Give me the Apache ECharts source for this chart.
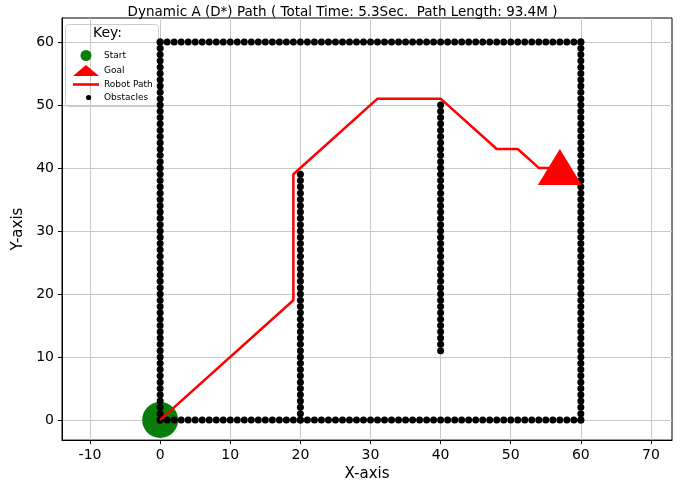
<!DOCTYPE html>
<html><head><meta charset="utf-8">
<script src="https://cdn.jsdelivr.net/npm/echarts@6/dist/echarts.min.js"></script>
<style>html,body{margin:0;padding:0;background:#fff}#c{width:685px;height:487px}</style>
</head><body><div id="c"></div>
<script>
const xTicks = [-10,0,10,20,30,40,50,60,70];
const yTicks = [0,10,20,30,40,50,60];
const startPt = [[0,0]];
const goalPt = [[57,39.5]];
const pathX = [0,19,19,31,40,48,51,54,57];
const pathY = [0,19,39,51,51,43,43,40,40];
// obstacle walls: [x0,y0,x1,y1]
const walls = [[0,0,0,60],[0,60,60,60],[60,0,60,60],[0,0,60,0],[20,0,20,39],[40,11,40,50]];
const obstacles = [];
walls.forEach(([x0,y0,x1,y1])=>{
  const n = Math.max(Math.abs(x1-x0),Math.abs(y1-y0));
  for(let i=0;i<=n;i++){obstacles.push([x0+(x1-x0)*i/n, y0+(y1-y0)*i/n]);}
});
const path = pathX.map((x,i)=>[x,pathY[i]]);
const f = 'DejaVu Sans';
const chart = echarts.init(document.getElementById('c'));
const axisCommon = {
  axisLine:{onZero:false,lineStyle:{color:'#000'}},
  axisTick:{length:4,lineStyle:{color:'#000'}},
  axisLabel:{color:'#000',fontSize:14,fontFamily:f},
  splitLine:{show:true,lineStyle:{color:'#c8c8c8',width:1}},
  nameTextStyle:{color:'#000',fontSize:15,fontFamily:f}
};
chart.setOption({
  animation:false,
  title:{text:'Dynamic A (D*) Path ( Total Time: 5.3Sec.  Path Length: 93.4M )',left:'center',top:0,
    textStyle:{fontSize:13.5,fontWeight:'normal',fontFamily:f,color:'#000'}},
  grid:{left:62,right:13,top:18,bottom:46,show:true,borderColor:'#000',borderWidth:1},
  xAxis:Object.assign({},axisCommon,{type:'value',min:-14,max:73,name:'X-axis',nameLocation:'middle',nameGap:26,
    axisLabel:Object.assign({},axisCommon.axisLabel,{customValues:xTicks}),
    axisTick:Object.assign({},axisCommon.axisTick,{customValues:xTicks}),
    splitLine:Object.assign({},axisCommon.splitLine,{customValues:xTicks})}),
  yAxis:Object.assign({},axisCommon,{type:'value',min:-3.2,max:63.8,name:'Y-axis',nameLocation:'middle',nameGap:34,
    axisLabel:Object.assign({},axisCommon.axisLabel,{customValues:yTicks}),
    axisTick:Object.assign({},axisCommon.axisTick,{customValues:yTicks}),
    splitLine:Object.assign({},axisCommon.splitLine,{customValues:yTicks})}),
  legend:{orient:'vertical',left:68,top:45,itemWidth:26,itemHeight:11,itemGap:4,
    textStyle:{fontSize:9,fontFamily:f,color:'#000'},
    data:[{name:'Start',icon:'circle'},{name:'Goal',icon:'triangle'},
      {name:'Robot Path',icon:'path://M0,0L40,0L40,4L0,4Z'},
      {name:'Obstacles',icon:'path://M0,0A1,1 0 1 1 0,0.001Z M-5,0L-5,0.001M5,0L5,0.001'}]},
  graphic:[
    {type:'rect',left:65,top:24,shape:{width:93,height:82,r:3},style:{fill:'rgba(255,255,255,0.85)',stroke:'#ccc'},z:0},
    {type:'text',left:93,top:26,style:{text:'Key:',fontSize:14,fontFamily:f,fill:'#000'},z:10}
  ],
  series:[
    {name:'Obstacles',type:'scatter',data:obstacles,symbolSize:7,itemStyle:{color:'#000',opacity:1},z:2},
    {name:'Robot Path',type:'line',data:path,symbol:'none',lineStyle:{color:'#ff0000',width:2.5},itemStyle:{color:'#ff0000'},z:3},
    {name:'Start',type:'scatter',data:startPt,symbolSize:36,itemStyle:{color:'#0a7d0a',opacity:1},z:1},
    {name:'Goal',type:'scatter',data:goalPt,symbol:'triangle',symbolSize:[44,36],symbolOffset:[0,-4],itemStyle:{color:'#ff0000',opacity:1},z:4}
  ]
});
</script></body></html>
